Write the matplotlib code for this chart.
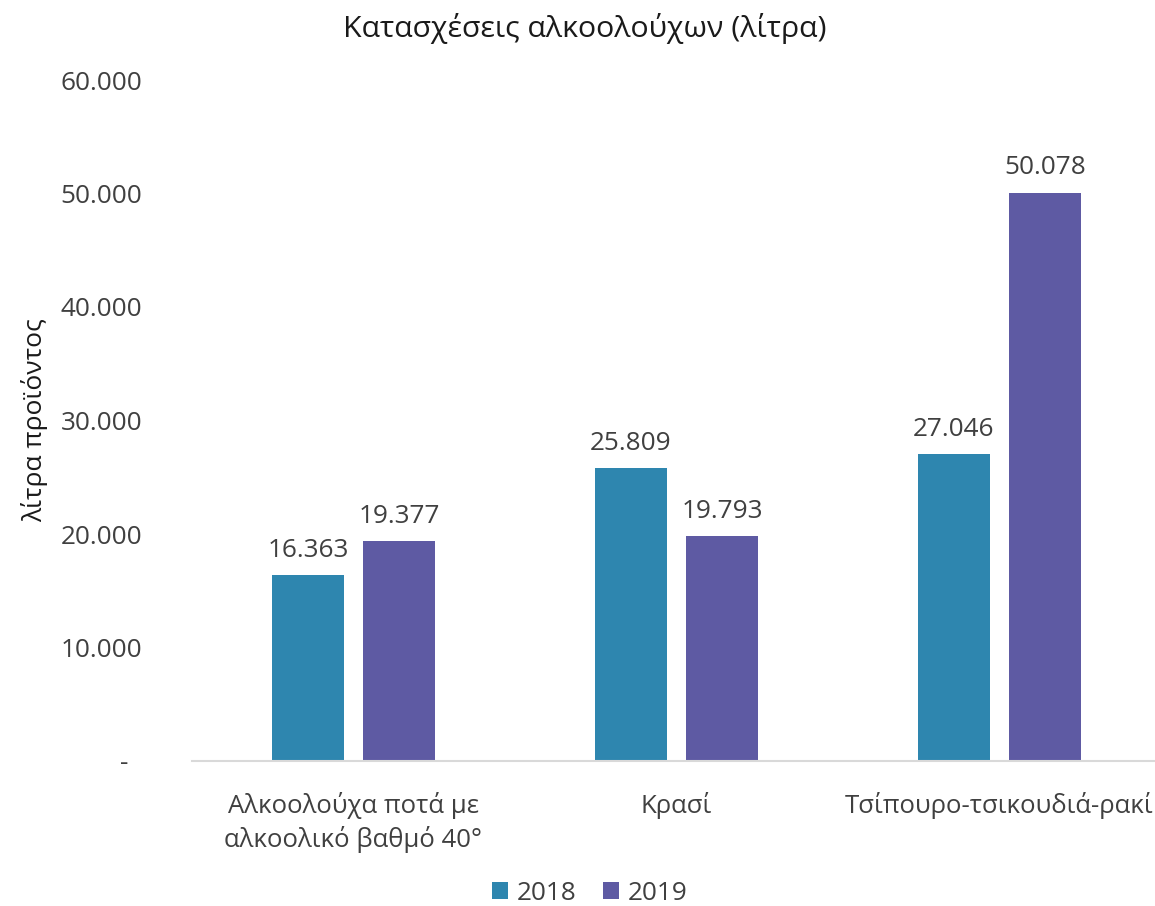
import matplotlib
matplotlib.use("Agg")
import matplotlib.pyplot as plt
import numpy as np
from matplotlib.ticker import FuncFormatter

plt.rcParams['font.family'] = ['Open Sans', 'DejaVu Sans']

categories = ["Αλκοολούχα ποτά με\nαλκοολικό βαθμό 40°", "Κρασί", "Τσίπουρο-τσικουδιά-ρακί"]
series_names = ["2018", "2019"]
values_2018 = [16363, 25809, 27046]
values_2019 = [19377, 19793, 50078]
colors = ["#2E86AF", "#5E5AA3"]
text_color = "#404040"

W, H = 1155, 906
fig = plt.figure(figsize=(W/100, H/100), dpi=100)
left, right, top, bottom = 192, 1161, 80, 761
ax = fig.add_axes([left/W, 1 - bottom/H, (right-left)/W, (bottom-top)/H])

x = np.arange(len(categories))
bw = 0.223
off = 0.141
b1 = ax.bar(x - off, values_2018, bw, color=colors[0], label=series_names[0])
b2 = ax.bar(x + off, values_2019, bw, color=colors[1], label=series_names[1])

def fmt(v):
    return f"{v:,.0f}".replace(",", ".")

for bars, vals in ((b1, values_2018), (b2, values_2019)):
    for r, v in zip(bars, vals):
        ax.annotate(fmt(v), (r.get_x() + r.get_width()/2, v), xytext=(0, 9),
                    textcoords="offset points", ha="center", va="bottom",
                    fontsize=18.8, color=text_color)

ax.set_xlim(-0.5, 2.5)
ax.set_ylim(0, 60000)
ax.set_yticks(np.arange(0, 60001, 10000))
ax.yaxis.set_major_formatter(FuncFormatter(lambda v, p: "-  " if v == 0 else fmt(v)))
ax.set_xticks(x)
ax.set_xticklabels(categories)
ax.tick_params(axis='y', length=0, pad=36, labelsize=18.8, labelcolor=text_color)
ax.tick_params(axis='x', length=0, pad=22, labelsize=18.5, labelcolor=text_color)
for lbl in ax.get_xticklabels():
    lbl.set_linespacing(1.35)

for s in ("top", "right", "left"):
    ax.spines[s].set_visible(False)
ax.spines["bottom"].set_color("#D9D9D9")
ax.spines["bottom"].set_linewidth(1.5)

fig.text(35/W, 1 - 420/H, "λίτρα προϊόντος", rotation=90, ha="center", va="center",
         fontsize=19, color="#1a1a1a")

fig.text(585/W, 1 - 29/H, "Κατασχέσεις αλκοολούχων (λίτρα)", ha="center", va="center",
         fontsize=21.8, color="#1a1a1a")

leg = fig.legend(handles=[b1, b2], labels=series_names, loc="center",
                 bbox_to_anchor=(590/W, 1 - 893/H), ncol=2, frameon=False,
                 fontsize=18.8, handlelength=0.6, handleheight=0.6,
                 handletextpad=0.35, columnspacing=1.0, labelcolor=text_color)

fig.savefig("out.png", dpi=100)
